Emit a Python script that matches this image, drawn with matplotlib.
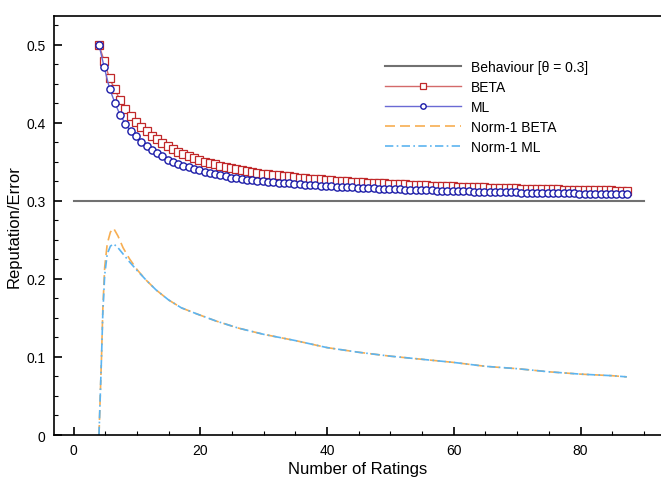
import numpy as np
import matplotlib
matplotlib.use("Agg")
import matplotlib.pyplot as plt

plt.rcParams['font.family'] = ['Liberation Sans', 'DejaVu Sans']

# x grid of the BETA / ML estimates (101 samples, 4 .. 87.3 ratings)
n_ratings = np.linspace(4, 87.33, 101)

beta_rep = [0.500, 0.479, 0.457, 0.443, 0.429, 0.418, 0.409, 0.401, 0.395, 0.389,
            0.383, 0.379, 0.374, 0.370, 0.366, 0.363, 0.360, 0.357, 0.355, 0.353,
            0.350, 0.348, 0.347, 0.345, 0.343, 0.342, 0.341, 0.339, 0.338, 0.337,
            0.336, 0.3351, 0.3343, 0.3335, 0.3327, 0.3320, 0.3313, 0.3306, 0.3299, 0.3293,
            0.3287, 0.3282, 0.3276, 0.3271, 0.3266, 0.3261, 0.3256, 0.3252, 0.3247, 0.3243,
            0.3239, 0.3235, 0.3231, 0.3228, 0.3224, 0.3221, 0.3217, 0.3214, 0.3211, 0.3208,
            0.3205, 0.3202, 0.3199, 0.3196, 0.3194, 0.3191, 0.3189, 0.3186, 0.3184, 0.3181,
            0.3179, 0.3177, 0.3175, 0.3173, 0.3170, 0.3168, 0.3166, 0.3165, 0.3163, 0.3161,
            0.3159, 0.3157, 0.3156, 0.3154, 0.3152, 0.3151, 0.3149, 0.3148, 0.3146, 0.3145,
            0.3143, 0.3142, 0.3140, 0.3139, 0.3138, 0.3136, 0.3135, 0.3134, 0.3132, 0.3131,
            0.3130]

ml_rep = [0.500, 0.471, 0.444, 0.426, 0.410, 0.399, 0.389, 0.383, 0.376, 0.371,
          0.365, 0.361, 0.357, 0.353, 0.350, 0.347, 0.345, 0.343, 0.341, 0.339,
          0.337, 0.336, 0.334, 0.333, 0.332, 0.330, 0.329, 0.328, 0.327, 0.3265,
          0.326, 0.3255, 0.3248, 0.3242, 0.3235, 0.3229, 0.3224, 0.3218, 0.3213, 0.3208,
          0.3204, 0.3199, 0.3195, 0.3191, 0.3187, 0.3183, 0.3180, 0.3176, 0.3173, 0.3169,
          0.3166, 0.3163, 0.3160, 0.3158, 0.3155, 0.3152, 0.3150, 0.3147, 0.3145, 0.3143,
          0.3141, 0.3138, 0.3136, 0.3134, 0.3132, 0.3130, 0.3129, 0.3127, 0.3125, 0.3123,
          0.3122, 0.3120, 0.3119, 0.3117, 0.3116, 0.3114, 0.3113, 0.3111, 0.3110, 0.3109,
          0.3107, 0.3106, 0.3105, 0.3104, 0.3102, 0.3101, 0.3100, 0.3099, 0.3098, 0.3097,
          0.3096, 0.3095, 0.3094, 0.3093, 0.3092, 0.3091, 0.3090, 0.3089, 0.3088, 0.3088,
          0.3087]

# norm-1 error curves
norm_x = [4.0, 4.2, 4.4, 4.6, 4.9, 5.3, 5.8, 6.3, 7.0, 7.8, 8.8, 10, 11.5, 13, 15, 17,
          19.5, 22.5, 26, 30, 35, 40, 45, 50, 55, 60, 65, 70, 75, 80, 85, 87.3]
norm_beta = [0.0, 0.05, 0.10, 0.16, 0.215, 0.245, 0.260, 0.265, 0.255, 0.240, 0.226,
             0.212, 0.198, 0.186, 0.173, 0.163, 0.155, 0.146, 0.137, 0.129, 0.121,
             0.112, 0.106, 0.101, 0.097, 0.093, 0.088, 0.085, 0.081, 0.078, 0.076, 0.0745]
norm_ml = [0.0, 0.05, 0.10, 0.155, 0.205, 0.232, 0.242, 0.245, 0.240, 0.232, 0.222,
           0.211, 0.198, 0.186, 0.173, 0.163, 0.155, 0.146, 0.137, 0.129, 0.121,
           0.112, 0.106, 0.101, 0.097, 0.093, 0.088, 0.085, 0.081, 0.078, 0.076, 0.0745]

theta = 0.3
behaviour_x = [0, 90]

fig = plt.figure(figsize=(6.61, 4.81), dpi=100)
ax = fig.add_axes([54/661, 1-436/481, 1-54/661, (436-17)/481])

ax.plot(behaviour_x, [theta, theta], color='#717171', lw=1.5, label='Behaviour [\u03b8 = 0.3]')
ax.plot(n_ratings, beta_rep, color='#d46a6a', lw=1.0, marker='s', ms=5.2,
        mfc='white', mec='#c0282a', mew=0.9, label='BETA')
ax.plot(n_ratings, ml_rep, color='#6a6ad4', lw=1.0, marker='o', ms=5.2,
        mfc='white', mec='#1c1ca8', mew=1.0, label='ML')
ax.plot(norm_x, norm_beta, color='#f7ae52', lw=1.2, ls=(0, (6, 3)), label='Norm-1 BETA')
ax.plot(norm_x, norm_ml, color='#5cb4f0', lw=1.2, ls=(0, (5, 2, 1, 2)), label='Norm-1 ML')

ax.set_xlim(-3.1, 92.7)
ax.set_ylim(0, 0.537)
ax.set_xticks([0, 20, 40, 60, 80])
ax.set_xticks(np.arange(0, 95, 5), minor=True)
ax.set_yticks([0, 0.1, 0.2, 0.3, 0.4, 0.5])
ax.set_yticklabels(['0', '0.1', '0.2', '0.3', '0.4', '0.5'])
ax.set_yticks(np.arange(0, 0.54, 0.025), minor=True)
ax.tick_params(which='major', direction='in', length=6, width=1.2, labelsize=10, pad=6)
ax.tick_params(which='minor', direction='in', length=3, width=0.8)
ax.spines['right'].set_visible(False)
for s in ['left', 'bottom', 'top']:
    ax.spines[s].set_linewidth(1.2)

ax.set_xlabel('Number of Ratings', fontsize=12, labelpad=3)
ax.set_ylabel('Reputation/Error', fontsize=12, labelpad=3)

ax.legend(loc='upper left', bbox_to_anchor=(0.545, 0.895), frameon=False, fontsize=10,
          borderpad=0, borderaxespad=0, handlelength=5.5, handletextpad=0.7,
          labelspacing=0.43, markerscale=0.75)

fig.savefig('out.png', dpi=100)
